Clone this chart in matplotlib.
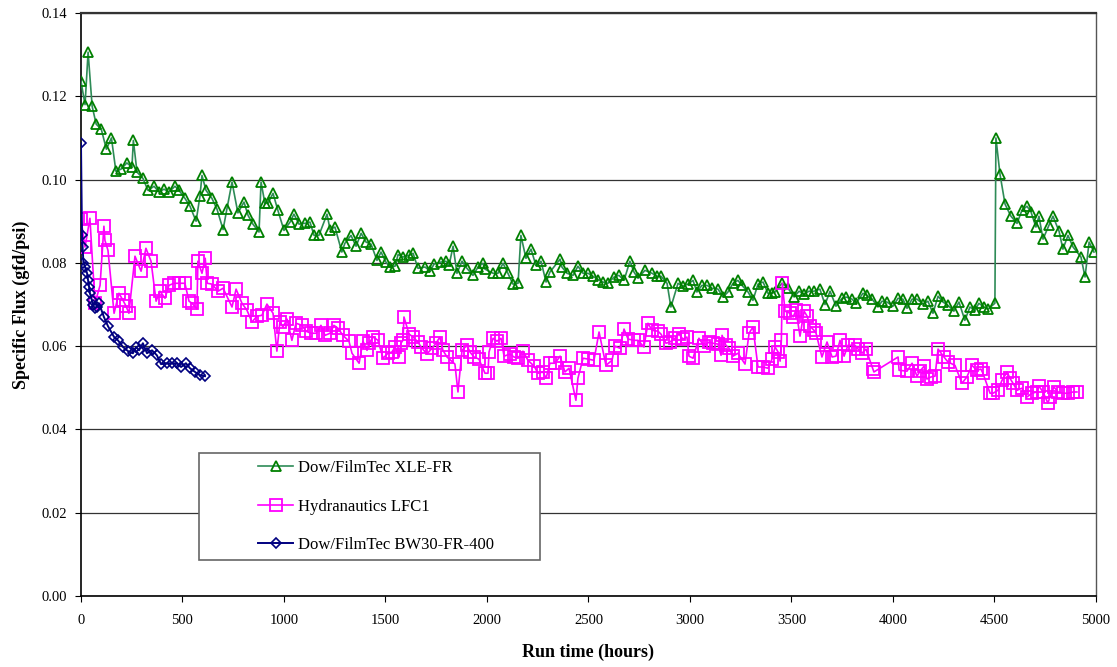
import matplotlib
matplotlib.use("Agg")
import matplotlib.pyplot as plt
from matplotlib.patches import Rectangle

# ── data (run time h, specific flux gfd/psi) ──
xle_t = [0, 20, 35, 55, 75, 100, 125, 150, 172, 197,
         226, 251, 258, 276, 305, 330, 360, 384, 409, 433,
         463, 483, 512, 537, 567, 586, 596, 616, 645, 670,
         700, 719, 744, 773, 803, 823, 847, 877, 887, 906,
         921, 946, 970, 1000, 1030, 1049, 1074, 1103, 1128, 1148,
         1172, 1212, 1227, 1251, 1285, 1300, 1330, 1355, 1380, 1404,
         1429, 1458, 1478, 1502, 1522, 1547, 1562, 1586, 1616, 1636,
         1660, 1695, 1720, 1739, 1773, 1798, 1813, 1833, 1852, 1877,
         1901, 1931, 1956, 1980, 1990, 2030, 2054, 2079, 2103, 2128,
         2153, 2167, 2192, 2217, 2241, 2266, 2291, 2310, 2360, 2369,
         2394, 2424, 2448, 2473, 2498, 2522, 2547, 2571, 2596, 2626,
         2650, 2675, 2704, 2724, 2744, 2778, 2813, 2837, 2857, 2887,
         2906, 2941, 2965, 2990, 3015, 3034, 3059, 3084, 3108, 3138,
         3163, 3187, 3212, 3236, 3256, 3286, 3310, 3335, 3360, 3384,
         3404, 3419, 3453, 3483, 3513, 3537, 3562, 3586, 3611, 3640,
         3665, 3690, 3719, 3749, 3768, 3798, 3818, 3852, 3872, 3897,
         3926, 3946, 3970, 4000, 4025, 4049, 4069, 4094, 4118, 4148,
         4172, 4197, 4222, 4246, 4271, 4300, 4325, 4354, 4379, 4404,
         4423, 4448, 4468, 4502, 4507, 4527, 4552, 4581, 4611, 4635,
         4660, 4680, 4704, 4719, 4739, 4768, 4788, 4818, 4837, 4862,
         4887, 4926, 4946, 4966, 4990]
xle_flux = [0.1236, 0.118, 0.1306, 0.1176, 0.1133, 0.1121, 0.1073, 0.110, 0.102, 0.1025,
            0.104, 0.103, 0.1094, 0.1018, 0.1003, 0.0974, 0.0984, 0.097, 0.0977, 0.097,
            0.0984, 0.0974, 0.0955, 0.0936, 0.090, 0.096, 0.101, 0.0974, 0.0955, 0.0929,
            0.088, 0.093, 0.0994, 0.092, 0.0946, 0.0914, 0.0893, 0.0874, 0.0994, 0.0943,
            0.0943, 0.0967, 0.0926, 0.0878, 0.0898, 0.0917, 0.0893, 0.0895, 0.0898, 0.0866,
            0.0866, 0.0917, 0.088, 0.0886, 0.0826, 0.0847, 0.0866, 0.084, 0.0871, 0.085,
            0.0845, 0.0806, 0.0826, 0.0802, 0.079, 0.0792, 0.082, 0.0814, 0.0818, 0.0823,
            0.0787, 0.079, 0.078, 0.0797, 0.0802, 0.0804, 0.0794, 0.084, 0.0775, 0.0804,
            0.0787, 0.077, 0.079, 0.0799, 0.0785, 0.0775, 0.0775, 0.0799, 0.0775, 0.0749,
            0.0751, 0.0866, 0.0811, 0.0833, 0.0794, 0.0804, 0.0754, 0.0778, 0.0809, 0.079,
            0.0775, 0.077, 0.0792, 0.0775, 0.0775, 0.0768, 0.076, 0.0754, 0.0751, 0.0766,
            0.077, 0.0758, 0.0804, 0.0778, 0.0763, 0.0782, 0.0775, 0.0768, 0.0768, 0.0751,
            0.0694, 0.0751, 0.0744, 0.0749, 0.0758, 0.073, 0.0746, 0.0746, 0.0739, 0.0737,
            0.0718, 0.073, 0.0751, 0.0758, 0.0746, 0.073, 0.071, 0.0749, 0.0754, 0.0727,
            0.0727, 0.073, 0.0751, 0.0739, 0.0718, 0.0732, 0.0725, 0.0732, 0.0732, 0.0737,
            0.070, 0.0732, 0.0696, 0.0715, 0.0718, 0.0713, 0.0703, 0.0727, 0.0722, 0.0713,
            0.0694, 0.0708, 0.0706, 0.0696, 0.0715, 0.0713, 0.0691, 0.0713, 0.0713, 0.0701,
            0.0708, 0.0679, 0.072, 0.0706, 0.0698, 0.0684, 0.0706, 0.0662, 0.0694, 0.0686,
            0.0703, 0.0694, 0.0689, 0.0703, 0.110, 0.1013, 0.0941, 0.0912, 0.0895, 0.0926,
            0.0936, 0.0922, 0.0886, 0.0912, 0.0857, 0.089, 0.0912, 0.0876, 0.0833, 0.0866,
            0.0838, 0.0814, 0.0766, 0.085, 0.0826]

lfc_t = [0, 20, 44, 69, 94, 113, 118, 133, 163, 187,
         207, 222, 236, 266, 296, 320, 345, 370, 389, 414,
         433, 458, 483, 512, 532, 547, 571, 576, 596, 612,
         622, 645, 675, 700, 744, 764, 793, 818, 842, 867,
         891, 916, 946, 965, 980, 995, 1015, 1039, 1059, 1089,
         1108, 1133, 1158, 1182, 1202, 1227, 1246, 1266, 1290, 1320,
         1335, 1370, 1389, 1409, 1419, 1439, 1463, 1488, 1512, 1532,
         1547, 1567, 1576, 1586, 1591, 1616, 1636, 1660, 1675, 1704,
         1729, 1749, 1768, 1783, 1803, 1842, 1857, 1877, 1901, 1916,
         1936, 1960, 1990, 2005, 2010, 2030, 2049, 2069, 2084, 2113,
         2133, 2153, 2177, 2202, 2232, 2251, 2276, 2291, 2310, 2335,
         2360, 2384, 2404, 2438, 2448, 2473, 2498, 2527, 2552, 2586,
         2616, 2630, 2655, 2675, 2695, 2724, 2744, 2773, 2793, 2813,
         2842, 2857, 2882, 2901, 2926, 2946, 2965, 2985, 2995, 3015,
         3044, 3069, 3094, 3113, 3138, 3153, 3158, 3177, 3192, 3212,
         3236, 3271, 3291, 3310, 3335, 3360, 3384, 3404, 3419, 3434,
         3444, 3450, 3455, 3468, 3493, 3508, 3522, 3542, 3562, 3577,
         3591, 3611, 3621, 3650, 3675, 3700, 3719, 3739, 3759, 3778,
         3813, 3828, 3847, 3867, 3901, 3906, 4025, 4030, 4069, 4094,
         4118, 4133, 4153, 4167, 4187, 4207, 4222, 4251, 4271, 4305,
         4340, 4364, 4389, 4413, 4433, 4443, 4478, 4493, 4517, 4537,
         4562, 4576, 4591, 4611, 4635, 4660, 4685, 4709, 4719, 4739,
         4763, 4773, 4793, 4813, 4837, 4862, 4887, 4906]
lfc_flux = [0.0905, 0.0838, 0.0907, 0.0703, 0.0746, 0.0888, 0.0854, 0.083, 0.0679, 0.0727,
            0.071, 0.0696, 0.0679, 0.0816, 0.078, 0.0835, 0.0804, 0.0708, 0.0732, 0.0715,
            0.0746, 0.0751, 0.0751, 0.0751, 0.0708, 0.0703, 0.0689, 0.0804, 0.0775, 0.0811,
            0.0751, 0.0749, 0.0732, 0.0739, 0.0694, 0.0737, 0.0703, 0.0686, 0.0658, 0.0672,
            0.0674, 0.0701, 0.0679, 0.0588, 0.0658, 0.0646, 0.0665, 0.0614, 0.0655, 0.065,
            0.0636, 0.0631, 0.0631, 0.065, 0.0626, 0.0631, 0.065, 0.0643, 0.0626, 0.0612,
            0.0583, 0.0559, 0.0612, 0.059, 0.0607, 0.0622, 0.0614, 0.0571, 0.0583, 0.0586,
            0.0598, 0.0574, 0.0607, 0.0614, 0.067, 0.0629, 0.0622, 0.061, 0.0598, 0.0581,
            0.0595, 0.0607, 0.0622, 0.059, 0.0574, 0.0557, 0.049, 0.059, 0.0602, 0.0586,
            0.0574, 0.0569, 0.0535, 0.0535, 0.0586, 0.0619, 0.0612, 0.0619, 0.0576, 0.0581,
            0.0574, 0.0571, 0.0588, 0.0566, 0.0552, 0.0535, 0.0538, 0.0523, 0.0559, 0.0559,
            0.0576, 0.0538, 0.0547, 0.047, 0.0523, 0.0571, 0.0569, 0.0566, 0.0634, 0.0554,
            0.0566, 0.060, 0.0595, 0.0641, 0.0617, 0.0614, 0.0614, 0.0598, 0.0655, 0.0638,
            0.0636, 0.0629, 0.0607, 0.061, 0.0619, 0.0629, 0.0617, 0.0622, 0.0576, 0.0571,
            0.0619, 0.060, 0.061, 0.0607, 0.0605, 0.0578, 0.0626, 0.0602, 0.0595, 0.0576,
            0.0583, 0.0557, 0.0631, 0.0646, 0.055, 0.055, 0.0547, 0.0569, 0.0598, 0.0586,
            0.0564, 0.0614, 0.0751, 0.0684, 0.0679, 0.067, 0.0686, 0.0624, 0.0684, 0.0672,
            0.0648, 0.0638, 0.0631, 0.0574, 0.061, 0.0574, 0.0576, 0.0614, 0.0576, 0.0602,
            0.0602, 0.0593, 0.0583, 0.0593, 0.0545, 0.0538, 0.0574, 0.0542, 0.054, 0.0559,
            0.0528, 0.054, 0.0552, 0.0521, 0.0526, 0.0528, 0.0593, 0.0574, 0.0562, 0.0554,
            0.0511, 0.0526, 0.0554, 0.0542, 0.0545, 0.0535, 0.0487, 0.0487, 0.0494, 0.0518,
            0.0538, 0.0523, 0.0511, 0.0494, 0.0499, 0.0478, 0.0487, 0.049, 0.0504, 0.049,
            0.0463, 0.0478, 0.0502, 0.049, 0.0487, 0.0487, 0.049, 0.049]

bw30_t = [0, 5, 8, 12, 20, 30, 35, 40, 44, 54,
          59, 69, 79, 89, 113, 133, 163, 182, 207, 232,
          256, 271, 286, 305, 325, 350, 374, 394, 424, 448,
          473, 493, 517, 537, 562, 586, 611]
bw30_flux = [0.1087, 0.0866, 0.0838, 0.080, 0.079, 0.0775, 0.0758, 0.0742, 0.0727, 0.071,
             0.0698, 0.0691, 0.0694, 0.0703, 0.067, 0.0648, 0.0622, 0.0614, 0.0598, 0.0588,
             0.0583, 0.0598, 0.059, 0.0607, 0.0583, 0.059, 0.0578, 0.0557, 0.0559, 0.0559,
             0.0559, 0.055, 0.0559, 0.0547, 0.0538, 0.053, 0.0528]

labels = ["Dow/FilmTec XLE-FR", "Hydranautics LFC1", "Dow/FilmTec BW30-FR-400"]
x_ticks = list(range(0, 5001, 500))
y_ticks = [0.00, 0.02, 0.04, 0.06, 0.08, 0.10, 0.12, 0.14]

plt.rcParams["font.family"] = ["Liberation Serif", "DejaVu Serif"]

fig = plt.figure(figsize=(11.17, 6.67), dpi=100)
ax = fig.add_axes([0.0725, 0.1064, 0.9087, 0.8741])

ax.plot(xle_t, xle_flux, color="#2e8b57", lw=1.2, marker="^", ms=7,
        mfc="none", mec="#008000", mew=1.3, label=labels[0], zorder=3)
ax.plot(lfc_t, lfc_flux, color="#ff00ff", lw=1.2, marker="s", ms=8,
        mfc="none", mec="#ff00ff", mew=1.3, label=labels[1], zorder=4)
ax.plot(bw30_t, bw30_flux, color="#000080", lw=1.4, marker="D", ms=5,
        mfc="none", mec="#000080", mew=1.2, label=labels[2], zorder=5)

ax.set_xlim(0, 5000)
ax.set_ylim(0, 0.14)
ax.set_xticks(x_ticks)
ax.set_yticks(y_ticks)
ax.set_yticklabels([f"{v:.2f}" for v in y_ticks])
ax.tick_params(direction="out", length=4, width=0.8, labelsize=10.5, pad=6)
ax.tick_params(axis="x", pad=9)
ax.yaxis.grid(True, color="#333333", lw=0.9)
ax.set_axisbelow(True)
for side in ("left", "bottom"):
    ax.spines[side].set_color("black")
    ax.spines[side].set_linewidth(1.2)
ax.spines["top"].set_color("#333333")
ax.spines["top"].set_linewidth(1.6)
ax.spines["right"].set_color("#555555")
ax.spines["right"].set_linewidth(1.0)

ax.set_xlabel("Run time (hours)", fontsize=13, fontweight="bold", labelpad=12)
ax.set_ylabel("Specific Flux (gfd/psi)", fontsize=13, fontweight="bold", labelpad=8)

# legend: framed box with a wide left margin, as in the Excel original
ax.add_patch(Rectangle((0.116, 0.062), 0.336, 0.183, transform=ax.transAxes,
                       fc="white", ec="#666666", lw=1.2, zorder=6))
leg = ax.legend(loc="center left", bbox_to_anchor=(0.168, 0.153), frameon=False,
                fontsize=12, handlelength=2.1, handletextpad=0.3, labelspacing=1.35,
                borderaxespad=0)
leg.set_zorder(7)

fig.savefig("out.png", dpi=100)
